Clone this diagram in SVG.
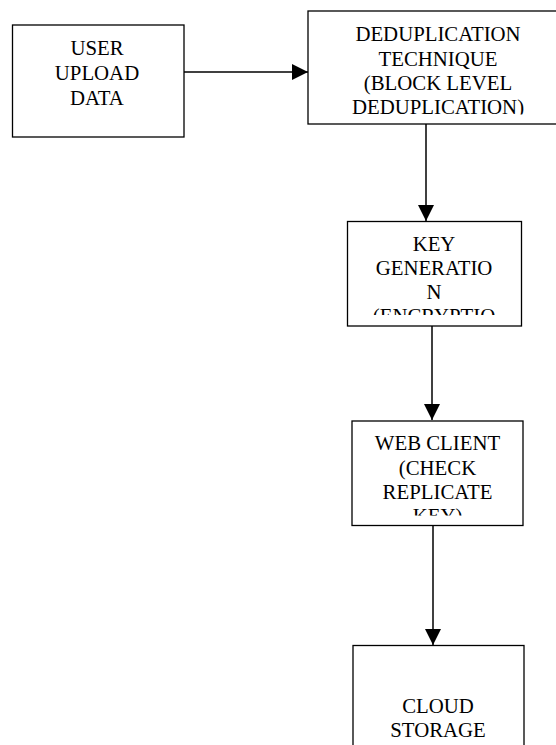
<svg xmlns="http://www.w3.org/2000/svg" width="556" height="745" viewBox="0 0 556 745">
<style>
.box{fill:#fff;stroke:#000;stroke-width:1.3}
.t{font-size:20.8px;fill:#000;text-anchor:middle}
.c{stroke:#000;stroke-width:1.5;fill:none}
</style>
<defs>
<marker id="ah" viewBox="0 0 16 16" refX="16" refY="8" markerWidth="16" markerHeight="16" markerUnits="userSpaceOnUse" orient="auto">
<path d="M0,0 L16,8 L0,16 Z" fill="#000"/>
</marker>
<clipPath id="cp2"><rect x="308" y="11" width="260" height="103.5"/></clipPath>
<clipPath id="cp3"><rect x="348" y="222" width="174" height="93"/></clipPath>
<clipPath id="cp4"><rect x="352" y="421" width="171" height="94.5"/></clipPath>
</defs>
<rect width="556" height="745" fill="#fff"/>
<g id="connectors">
<line class="c" x1="184" y1="72" x2="308" y2="72" marker-end="url(#ah)"/>
<line class="c" x1="426" y1="124" x2="426" y2="221" marker-end="url(#ah)"/>
<line class="c" x1="432" y1="326" x2="432" y2="420" marker-end="url(#ah)"/>
<line class="c" x1="433" y1="526" x2="433" y2="645" marker-end="url(#ah)"/>
</g>
<g font-family="'Liberation Serif', Tinos, 'Times New Roman', 'DejaVu Serif', serif">
<g id="n1">
<rect class="box" x="12.5" y="25" width="171.5" height="112"/>
<text class="t" x="97" y="55">USER</text>
<text class="t" x="97" y="80">UPLOAD</text>
<text class="t" x="97" y="105">DATA</text>
</g>
<g id="n2">
<rect class="box" x="308" y="11" width="262" height="113"/>
<g clip-path="url(#cp2)">
<text class="t" x="438" y="41">DEDUPLICATION</text>
<text class="t" x="438" y="65.5">TECHNIQUE</text>
<text class="t" x="438" y="90">(BLOCK LEVEL</text>
<text class="t" x="438" y="114">DEDUPLICATION)</text>
</g>
</g>
<g id="n3">
<rect class="box" x="347.5" y="221.5" width="174" height="104.5"/>
<g clip-path="url(#cp3)">
<text class="t" x="434" y="251">KEY</text>
<text class="t" x="434" y="275">GENERATIO</text>
<text class="t" x="434" y="299">N</text>
<text class="t" x="434" y="323">(ENCRYPTIO</text>
</g>
</g>
<g id="n4">
<rect class="box" x="352" y="421" width="171" height="104.5"/>
<g clip-path="url(#cp4)">
<text class="t" x="437.5" y="450">WEB CLIENT</text>
<text class="t" x="437.5" y="475">(CHECK</text>
<text class="t" x="437.5" y="499">REPLICATE</text>
<text class="t" x="437.5" y="523">KEY)</text>
</g>
</g>
<g id="n5">
<rect class="box" x="353" y="645.5" width="171" height="110"/>
<text class="t" x="438" y="713">CLOUD</text>
<text class="t" x="438" y="737">STORAGE</text>
</g>
</g>
</svg>
